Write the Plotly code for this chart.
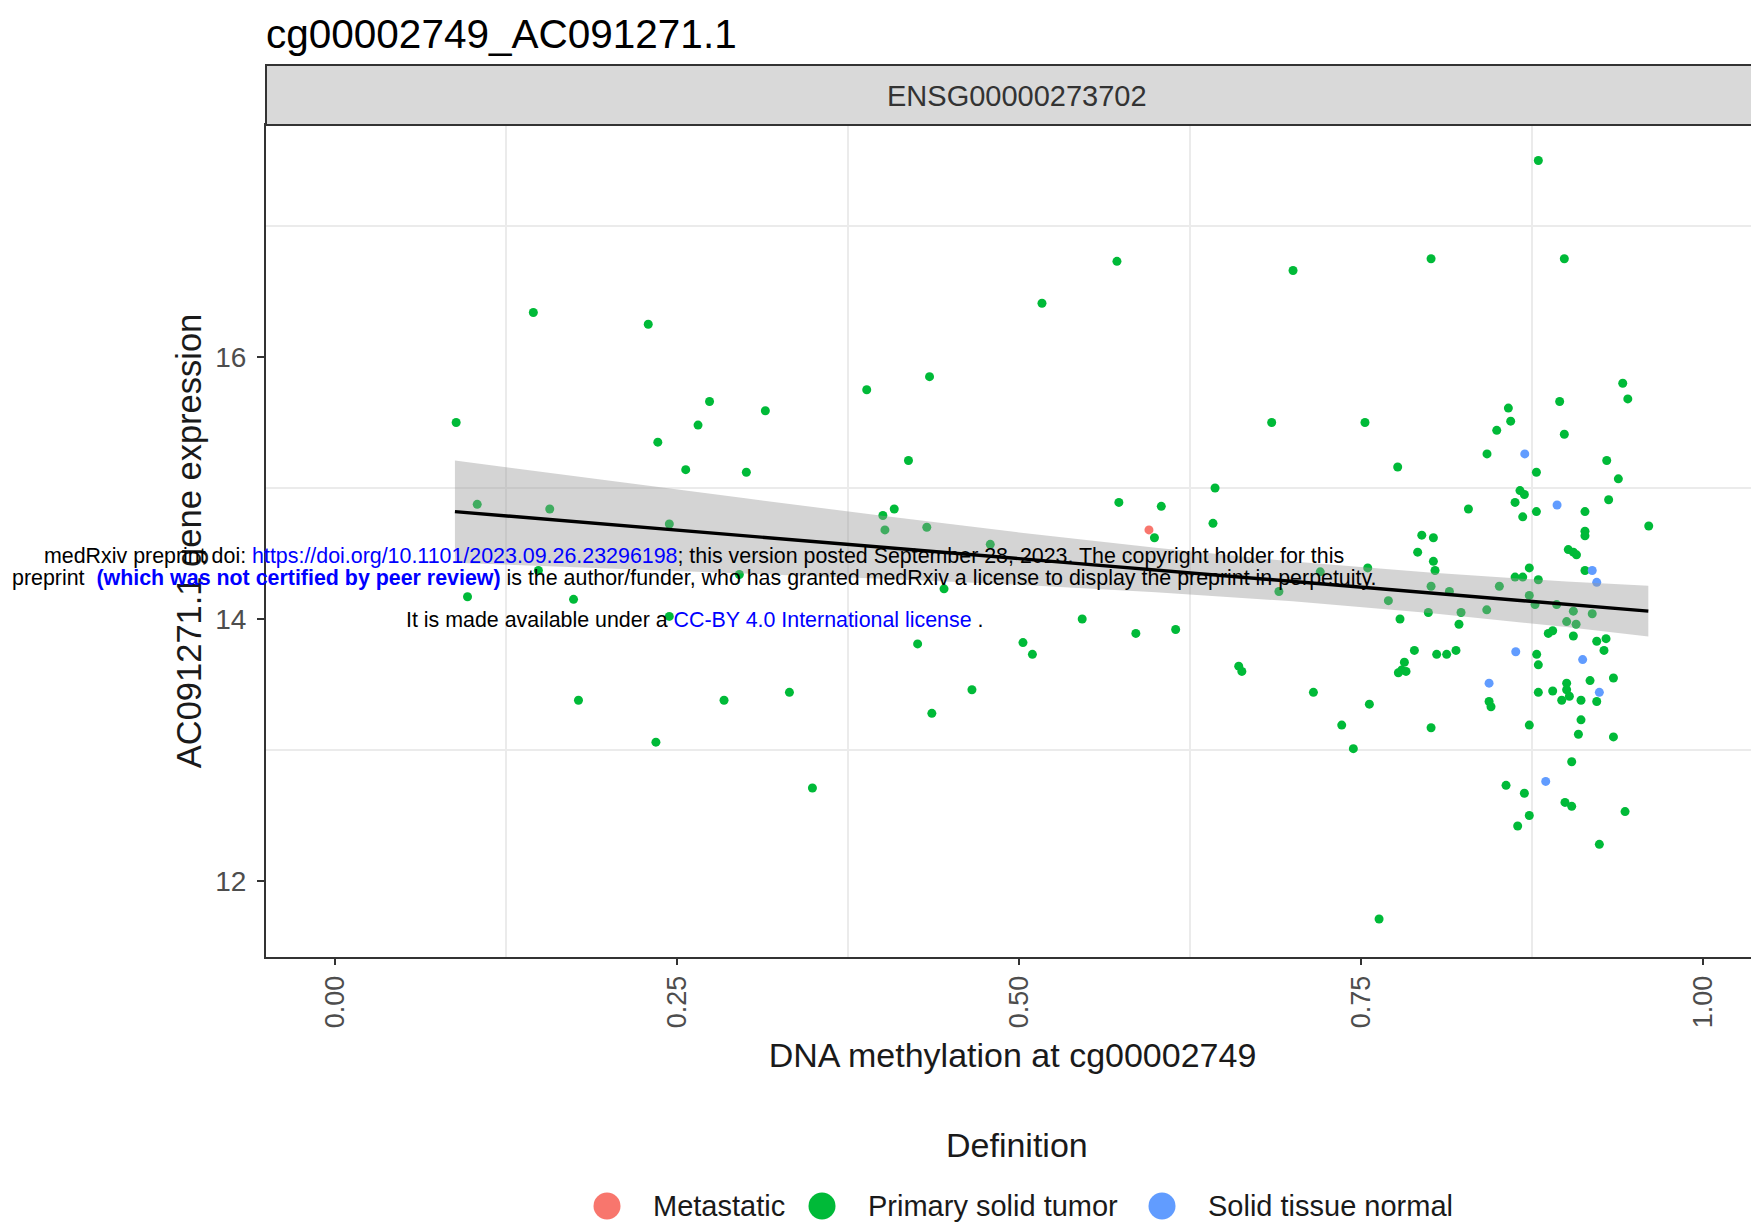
import plotly.graph_objects as go

# ---------------- data ----------------
groups = ["Metastatic", "Primary solid tumor", "Solid tissue normal"]
group_colors = ["#F8766D", "#00BA38", "#619CFF"]

met_x = [0.595]
met_y = [14.68]

norm_x = [0.8697, 0.8933, 0.919, 0.9223, 0.8631, 0.912, 0.8436, 0.9242, 0.885]
norm_y = [15.26, 14.87, 14.37, 14.28, 13.75, 13.69, 13.51, 13.44, 12.76]

prim_x = [
    0.145, 0.229, 0.0886, 0.2738, 0.2654, 0.236, 0.2564, 0.3007, 0.104, 0.157, 0.2444,
    0.5716, 0.5168, 0.7003, 0.3146, 0.3887, 0.4346, 0.4192, 0.6847, 0.6433, 0.573,
    0.604, 0.4088, 0.4005, 0.402, 0.4326, 0.6418, 0.599,
    0.8796, 0.8012, 0.8986, 0.9413, 0.945, 0.8952, 0.8577, 0.8594, 0.7529, 0.8492,
    0.8986, 0.8421, 0.9296, 0.7768, 0.8782, 0.9381, 0.8662, 0.8694, 0.8626, 0.931,
    0.8285, 0.8782, 0.8682, 0.9137, 0.9603, 0.9137, 0.9137, 0.7944, 0.8029,
    0.7914, 0.8029, 0.8041, 0.9015, 0.9052, 0.9075, 0.7549, 0.873, 0.8626, 0.8682,
    0.8796, 0.9137, 0.8511, 0.8012, 0.8146, 0.873, 0.77, 0.8772, 0.893, 0.8419,
    0.7992, 0.8231, 0.9052, 0.919, 0.7785, 0.8216, 0.9003, 0.9072, 0.8869, 0.8901,
    0.9052, 0.9223, 0.9291, 0.9276, 0.789, 0.8053, 0.8126, 0.8194, 0.8784, 0.8796,
    0.7817, 0.7797, 0.7773, 0.7829, 0.9174, 0.9345, 0.7152, 0.8796, 0.8901, 0.9003,
    0.9003, 0.9023, 0.8967, 0.9108, 0.9223, 0.8436, 0.845, 0.7561, 0.7359, 0.8012,
    0.873, 0.9108, 0.9089, 0.9345, 0.7444, 0.904, 0.856, 0.8694, 0.8991, 0.904,
    0.873, 0.8645, 0.943, 0.9242, 0.7632,
    0.0969, 0.1744, 0.1487, 0.2444, 0.178, 0.2844, 0.2346, 0.2956,
    0.479, 0.4452, 0.7202, 0.69, 0.5462, 0.5854, 0.6145, 0.4259, 0.5029, 0.5098,
    0.6606, 0.6629, 0.3322, 0.4656, 0.4363, 0.349,
]
prim_y = [
    16.34, 16.25, 15.50, 15.66, 15.48, 15.35, 15.14, 15.12, 14.875, 14.84, 14.725,
    16.73, 16.41, 16.66, 15.59, 15.75, 15.85, 15.21, 15.50, 15.00, 14.89,
    14.86, 14.84, 14.79, 14.68, 14.70, 14.73, 14.62,
    17.50, 16.75, 16.75, 15.80, 15.68, 15.66, 15.61, 15.51, 15.50, 15.44,
    15.41, 15.26, 15.21, 15.16, 15.12, 15.07, 14.98, 14.95, 14.89, 14.91,
    14.84, 14.82, 14.78, 14.82, 14.71, 14.67, 14.635, 14.64, 14.62,
    14.51, 14.44, 14.37, 14.53, 14.51, 14.49, 14.39, 14.39, 14.32, 14.32,
    14.30, 14.37, 14.25, 14.25, 14.21, 14.18, 14.14, 14.11, 14.11, 14.07,
    14.05, 14.05, 14.06, 14.04, 14.00, 13.96, 13.98, 13.96, 13.89, 13.91,
    13.87, 13.83, 13.85, 13.76, 13.76, 13.73, 13.73, 13.76, 13.73, 13.65,
    13.67, 13.61, 13.59, 13.60, 13.53, 13.55, 13.44, 13.44, 13.45, 13.51,
    13.46, 13.41, 13.38, 13.38, 13.37, 13.37, 13.33, 13.35, 13.19, 13.17,
    13.19, 13.23, 13.12, 13.10, 13.01, 12.91, 12.73, 12.67, 12.60, 12.57,
    12.50, 12.42, 12.53, 12.28, 11.71,
    14.17, 14.15, 14.37, 14.02, 13.38, 13.38, 13.06, 14.34,
    14.57, 14.23, 14.36, 14.21, 14.00, 13.89, 13.92, 13.81, 13.82, 13.73,
    13.64, 13.60, 13.44, 13.46, 13.28, 12.71,
]

# linear fit and its confidence band
fit_x = [0.0877, 0.2, 0.3, 0.4, 0.5, 0.6, 0.7, 0.8, 0.9, 0.96]
fit_y = [14.82, 14.722, 14.635, 14.548, 14.461, 14.374, 14.287, 14.200, 14.112, 14.06]
ci_hi = [15.21, 15.056, 14.921, 14.788, 14.661, 14.543, 14.439, 14.354, 14.286, 14.253]
ci_lo = [14.43, 14.388, 14.349, 14.308, 14.261, 14.205, 14.135, 14.046, 13.938, 13.867]

x_tickvals = [0.0, 0.25, 0.5, 0.75, 1.0]
x_ticktext = ["0.00", "0.25", "0.50", "0.75", "1.00"]
y_tickvals = [12, 14, 16]
y_ticktext = ["12", "14", "16"]
x_gridvals = [0.125, 0.375, 0.625, 0.875]
y_gridvals = [13, 15, 17]

title_text = "cg00002749_AC091271.1"
strip_text = "ENSG00000273702"
x_title = "DNA methylation at cg00002749"
y_title = "AC091271.1 gene expression"
legend_title = "Definition"

FONT = "Liberation Sans, Arial, Helvetica, sans-serif"

# ---------------- figure ----------------
fig = go.Figure()

series = [(prim_x, prim_y), (met_x, met_y), (norm_x, norm_y)]
order = [1, 0, 2]
for idx, (xs, ys) in zip(order, series):
    fig.add_trace(go.Scatter(
        x=xs, y=ys, mode="markers", name=groups[idx],
        marker=dict(color=group_colors[idx], size=9, line=dict(width=0)),
        showlegend=False,
    ))

fig.add_trace(go.Scatter(x=fit_x, y=ci_lo, mode="lines", line=dict(width=0),
                         showlegend=False, hoverinfo="skip"))
fig.add_trace(go.Scatter(x=fit_x, y=ci_hi, mode="lines", line=dict(width=0),
                         fill="tonexty", fillcolor="rgba(153,153,153,0.42)",
                         showlegend=False, hoverinfo="skip"))
fig.add_trace(go.Scatter(x=fit_x, y=fit_y, mode="lines",
                         line=dict(color="black", width=3.4),
                         showlegend=False))

# page is drawn with an 8px body margin: work in page pixels
OFF = 8
PAGE_W, PAGE_H = 1759, 1230
W, H = PAGE_W - OFF, PAGE_H - OFF
PLOT_L, PLOT_R, PLOT_T, PLOT_B = 266, 1759, 125, 957   # page pixels
ML = PLOT_L - OFF
MR = PAGE_W - PLOT_R
MT = PLOT_T - OFF
MB = PAGE_H - PLOT_B
PW = PLOT_R - PLOT_L
PH = PLOT_B - PLOT_T


def px_x(p):
    return (p - PLOT_L) / PW


def px_y(p):
    return (PLOT_B - p) / PH


fig.update_layout(
    width=W, height=H,
    margin=dict(l=ML, r=MR, t=MT, b=MB, autoexpand=False),
    paper_bgcolor="white", plot_bgcolor="white",
    font=dict(family=FONT, color="#1A1A1A"),
    showlegend=False,
)

fig.update_xaxes(
    range=[-0.0504, 1.0409], tickvals=x_tickvals, ticktext=x_ticktext,
    tickangle=-90, tickfont=dict(size=27, color="#4D4D4D", family=FONT),
    ticks="outside", ticklen=6, tickwidth=2, tickcolor="#333333",
    showgrid=False, zeroline=False,
    showline=True, linecolor="#333333", linewidth=2, mirror=True,
    minor=dict(tickvals=x_gridvals, showgrid=True, gridcolor="#EBEBEB", gridwidth=2, ticks=""),
    title=dict(text=x_title, font=dict(size=34, color="#1A1A1A", family=FONT), standoff=16),
    automargin=False,
)
fig.update_yaxes(
    range=[11.4198, 17.771], tickvals=y_tickvals, ticktext=y_ticktext,
    tickfont=dict(size=28, color="#4D4D4D", family=FONT),
    ticks="outside", ticklen=7, tickwidth=2, tickcolor="#333333",
    ticklabelstandoff=5,
    showgrid=False, zeroline=False,
    showline=True, linecolor="#333333", linewidth=2, mirror=False,
    minor=dict(tickvals=y_gridvals, showgrid=True, gridcolor="#EBEBEB", gridwidth=2, ticks=""),
    title=dict(text=y_title, font=dict(size=34.5, color="#1A1A1A", family=FONT), standoff=3),
    automargin=False,
)

shapes = []
# facet strip
shapes.append(dict(type="rect", xref="paper", yref="paper", x0=0, x1=1.01,
                   y0=1, y1=px_y(65), fillcolor="#D9D9D9",
                   line=dict(color="#333333", width=2), layer="above"))

annotations = []
annotations.append(dict(text=strip_text, xref="paper", yref="paper",
                        x=px_x(1017), y=px_y(96), showarrow=False,
                        xanchor="center", yanchor="middle",
                        font=dict(size=29, color="#333333", family=FONT)))
annotations.append(dict(text=title_text, xref="paper", yref="paper",
                        x=px_x(264), y=px_y(9), showarrow=False,
                        xanchor="left", yanchor="top",
                        font=dict(size=40.5, color="black", family=FONT)))

# legend (drawn from the group lists)
annotations.append(dict(text=legend_title, xref="paper", yref="paper",
                        x=px_x(1017), y=px_y(1145), showarrow=False,
                        xanchor="center", yanchor="middle",
                        font=dict(size=34, color="#1A1A1A", family=FONT)))
legend_marker_px = [607, 822, 1162]
for g, c, mx in zip(groups, group_colors, legend_marker_px):
    shapes.append(dict(type="circle", xref="paper", yref="paper",
                       xsizemode="pixel", ysizemode="pixel",
                       xanchor=px_x(mx), yanchor=px_y(1206),
                       x0=-13.5, x1=13.5, y0=-13.5, y1=13.5,
                       fillcolor=c, line=dict(width=0)))
    annotations.append(dict(text=g, xref="paper", yref="paper",
                            x=px_x(mx + 44), y=px_y(1206), showarrow=False,
                            xanchor="left", yanchor="middle",
                            font=dict(size=29, color="#1A1A1A", family=FONT)))

# medRxiv watermark
BLUE = "#0000FF"
wm1 = ("medRxiv preprint doi: <span style='color:%s'>https://doi.org/10.1101/2023.09.26.23296198</span>"
       "; this version posted September 28, 2023. The copyright holder for this" % BLUE)
wm2 = ("preprint  <b><span style='color:%s'>(which was not certified by peer review)</span></b>"
       " is the author/funder, who has granted medRxiv a license to display the preprint in perpetuity." % BLUE)
wm3 = ("It is made available under a <span style='color:%s'>CC-BY 4.0 International license</span> ." % BLUE)
for txt, xp, yp in [(wm1, 42, 556), (wm2, 10, 578), (wm3, 404, 620)]:
    annotations.append(dict(text=txt, xref="paper", yref="paper",
                            x=px_x(xp), y=px_y(yp), showarrow=False,
                            xanchor="left", yanchor="middle",
                            font=dict(size=21.4, color="black", family=FONT)))

fig.update_layout(shapes=shapes, annotations=annotations)

fig.write_html("out.html")
